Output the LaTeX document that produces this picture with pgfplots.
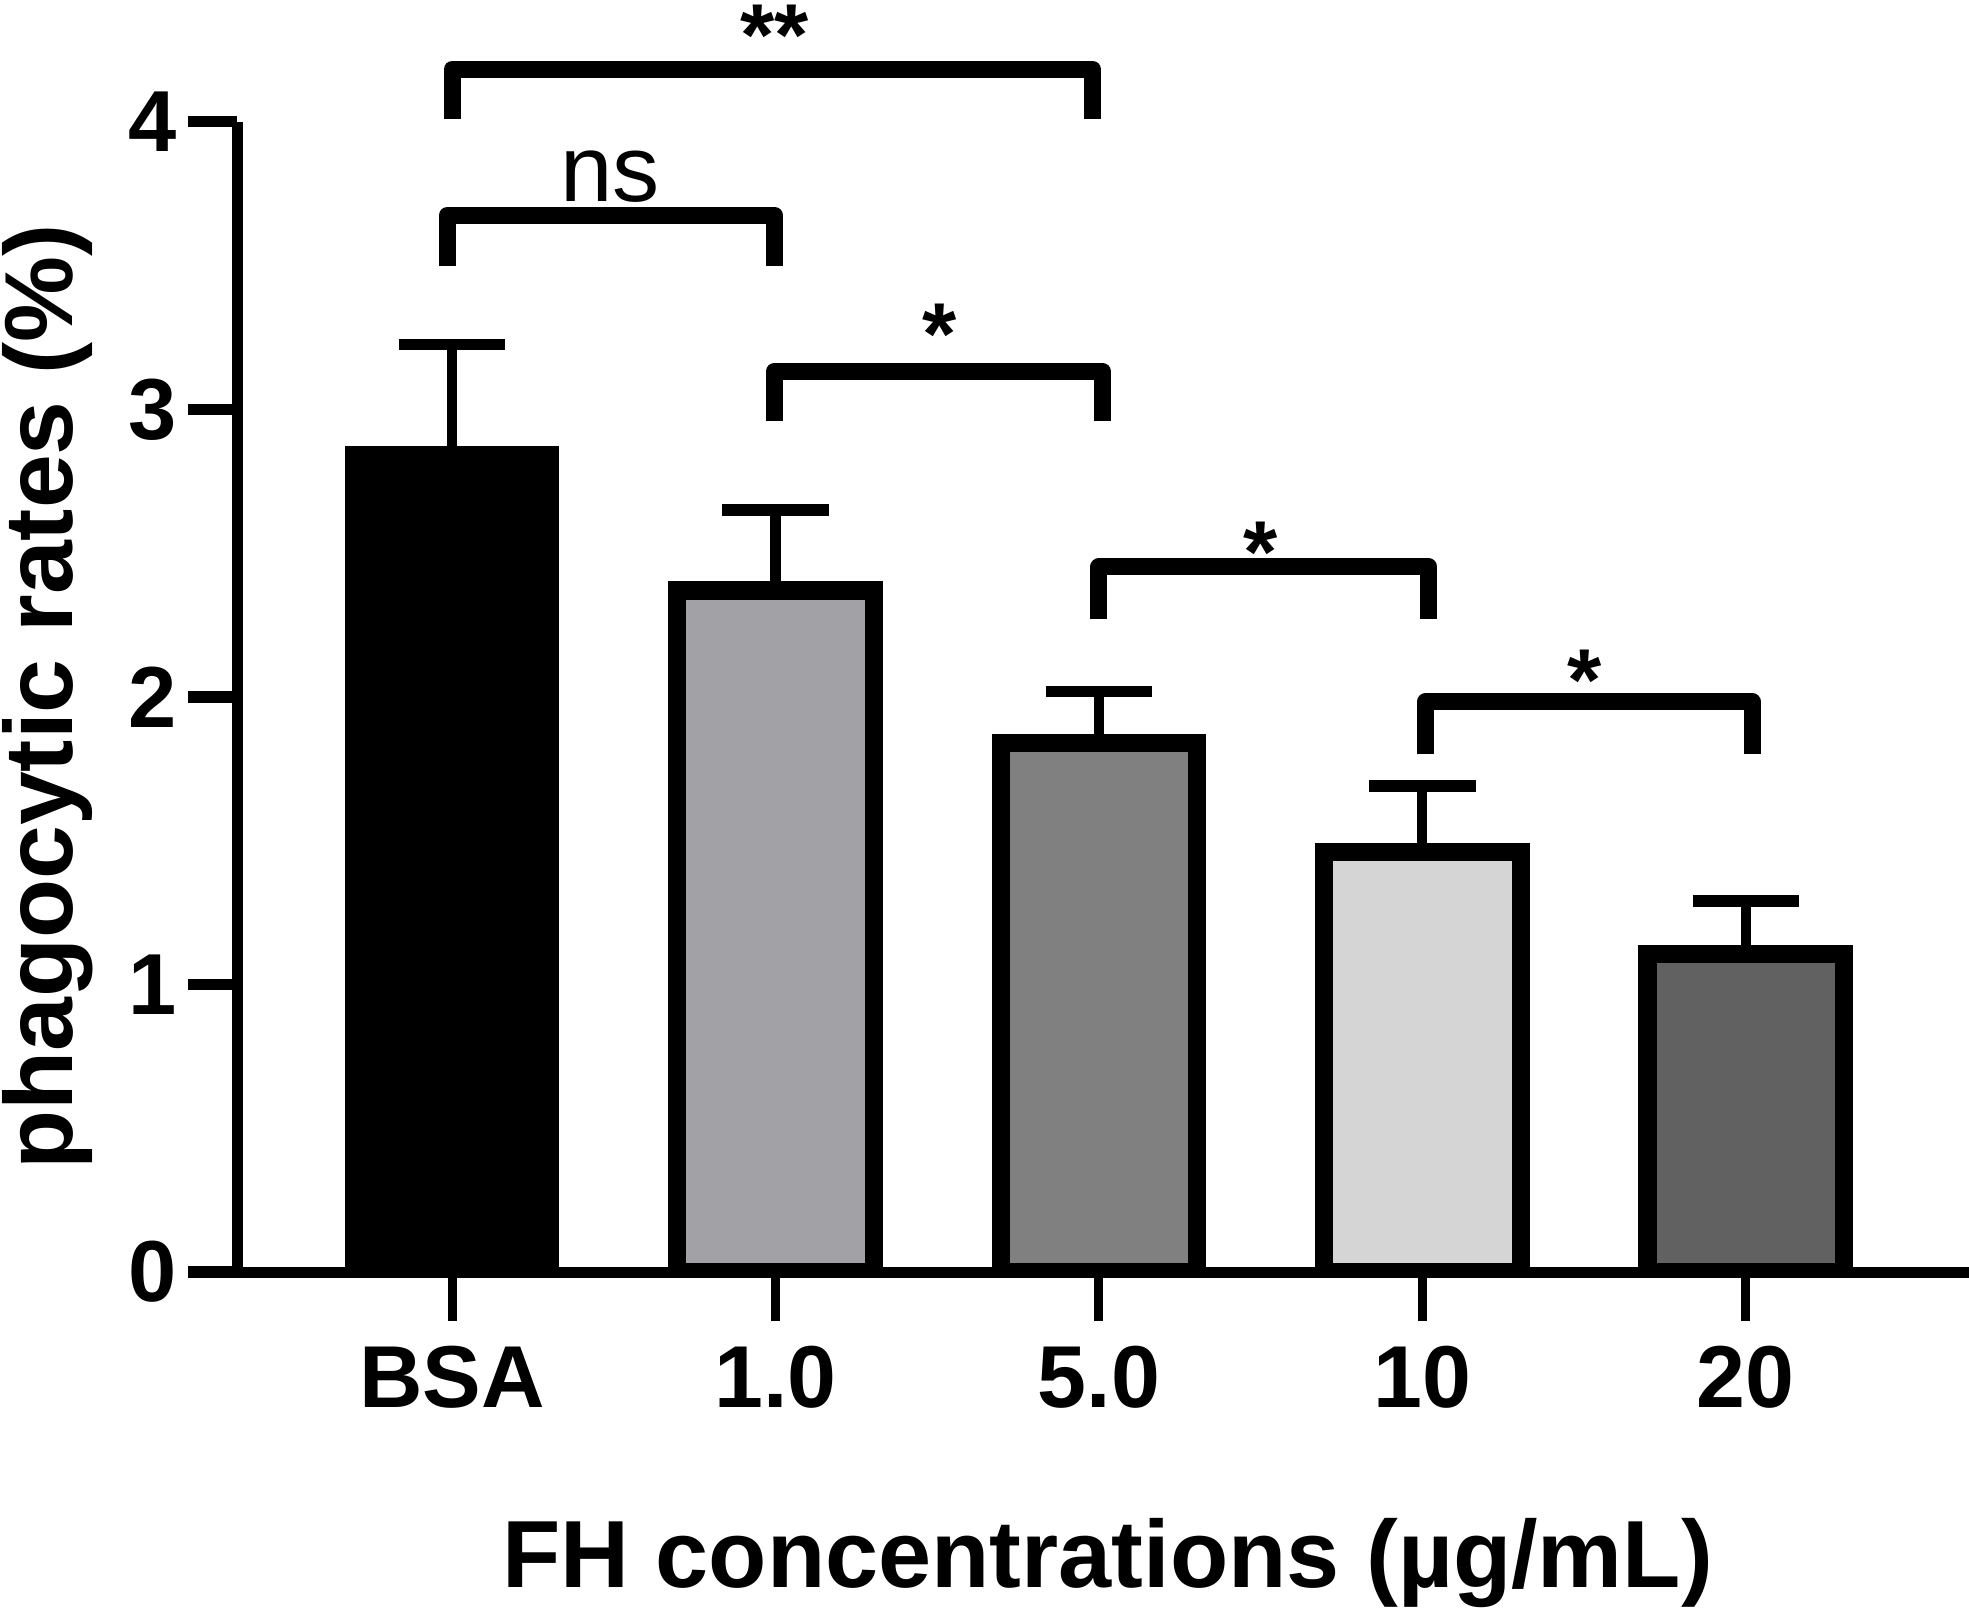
\documentclass[border=0pt]{standalone}
\usepackage{fontspec}
\setmainfont{Liberation Sans}
\usepackage{pgfplots}
\pgfplotsset{compat=1.18}
\definecolor{cA}{RGB}{162,161,165}
\definecolor{cB}{RGB}{128,128,128}
\definecolor{cC}{RGB}{213,213,213}
\definecolor{cD}{RGB}{97,97,97}
\begin{document}
\begin{tikzpicture}
\begin{axis}[
  at={(0pt,0pt)}, anchor=south west,
  scale only axis, width=344.75pt, height=229pt,
  xmin=-0.664, xmax=4.69, ymin=0, ymax=4,
  axis x line=bottom, axis y line=left,
  axis line style={-, line width=2.2pt, black},
  clip mode=individual,
  xtick={0,1,2,3,4}, xticklabels={BSA,1.0,5.0,10,20},
  ytick={0,1,2,3,4},
  tick align=outside, major tick length=9.75pt,
  x tick style={line width=1.8pt, black},
  y tick style={line width=2.25pt, black},
  /pgf/number format/assume math mode=true,
  x tick label style={font=\bfseries\fontsize{17.5}{20}\selectfont, yshift=-1.5pt},
  y tick label style={font=\bfseries\fontsize{17.25}{20}\selectfont, inner sep=2.2pt},
  ylabel={phagocytic rates (\%)},
  ylabel style={font=\bfseries\fontsize{19.25}{22}\selectfont, at={(axis description cs:-0.1361,0.5)}, anchor=north, inner sep=0pt},
  xlabel={FH concentrations (µg/mL)},
  xlabel style={font=\bfseries\fontsize{19}{22}\selectfont, at={(axis description cs:0.5025,-0.274)}, anchor=base, inner sep=0pt},
  error bars/error bar style={line width=2pt, black},
  error bars/error mark options={rotate=90, line width=2.25pt, mark size=10.6pt, black},
]
\addplot+[ybar, bar width=0.608, bar shift=0pt, fill=black, draw=black, line width=3.6pt, mark=none,
  error bars/.cd, y dir=plus, y explicit] coordinates {(0,2.84) +- (0,0.385)};
\addplot+[ybar, bar width=0.608, bar shift=0pt, fill=cA, draw=black, line width=3.6pt, mark=none,
  error bars/.cd, y dir=plus, y explicit] coordinates {(1,2.37) +- (0,0.28)};
\addplot+[ybar, bar width=0.608, bar shift=0pt, fill=cB, draw=black, line width=3.6pt, mark=none,
  error bars/.cd, y dir=plus, y explicit] coordinates {(2,1.84) +- (0,0.18)};
\addplot+[ybar, bar width=0.608, bar shift=0pt, fill=cC, draw=black, line width=3.6pt, mark=none,
  error bars/.cd, y dir=plus, y explicit] coordinates {(3,1.46) +- (0,0.23)};
\addplot+[ybar, bar width=0.608, bar shift=0pt, fill=cD, draw=black, line width=3.6pt, mark=none,
  error bars/.cd, y dir=plus, y explicit] coordinates {(4,1.105) +- (0,0.185)};
% significance brackets
\draw[line width=3.4pt, line join=round] (axis cs:0,4.01) -- (axis cs:0,4.183) -- (axis cs:1.98,4.183) -- (axis cs:1.98,4.01);
\draw[line width=3.4pt, line join=round] (axis cs:-0.015,3.50) -- (axis cs:-0.015,3.675) -- (axis cs:0.997,3.675) -- (axis cs:0.997,3.50);
\draw[line width=3.4pt, line join=round] (axis cs:0.997,2.96) -- (axis cs:0.997,3.133) -- (axis cs:2.01,3.133) -- (axis cs:2.01,2.96);
\draw[line width=3.4pt, line join=round] (axis cs:2.0,2.27) -- (axis cs:2.0,2.452) -- (axis cs:3.02,2.452) -- (axis cs:3.02,2.27);
\draw[line width=3.4pt, line join=round] (axis cs:3.01,1.80) -- (axis cs:3.01,1.983) -- (axis cs:4.02,1.983) -- (axis cs:4.02,1.80);
\node[anchor=base, inner sep=0pt, font=\bfseries\fontsize{17.5}{20}\selectfont] at (axis cs:0.998,4.197) {**};
\node[anchor=base, inner sep=0pt, font=\fontsize{18.75}{22}\selectfont] at (axis cs:0.489,3.723) {ns};
\node[anchor=base, inner sep=0pt, font=\bfseries\fontsize{17.5}{20}\selectfont] at (axis cs:1.507,3.157) {*};
\node[anchor=base, inner sep=0pt, font=\bfseries\fontsize{17.5}{20}\selectfont] at (axis cs:2.50,2.397) {*};
\node[anchor=base, inner sep=0pt, font=\bfseries\fontsize{17.5}{20}\selectfont] at (axis cs:3.503,1.952) {*};
\end{axis}
\pgfresetboundingbox
\path[use as bounding box] (-47.25pt,-67pt) rectangle (344.75pt,253.25pt);
\end{tikzpicture}
\end{document}
